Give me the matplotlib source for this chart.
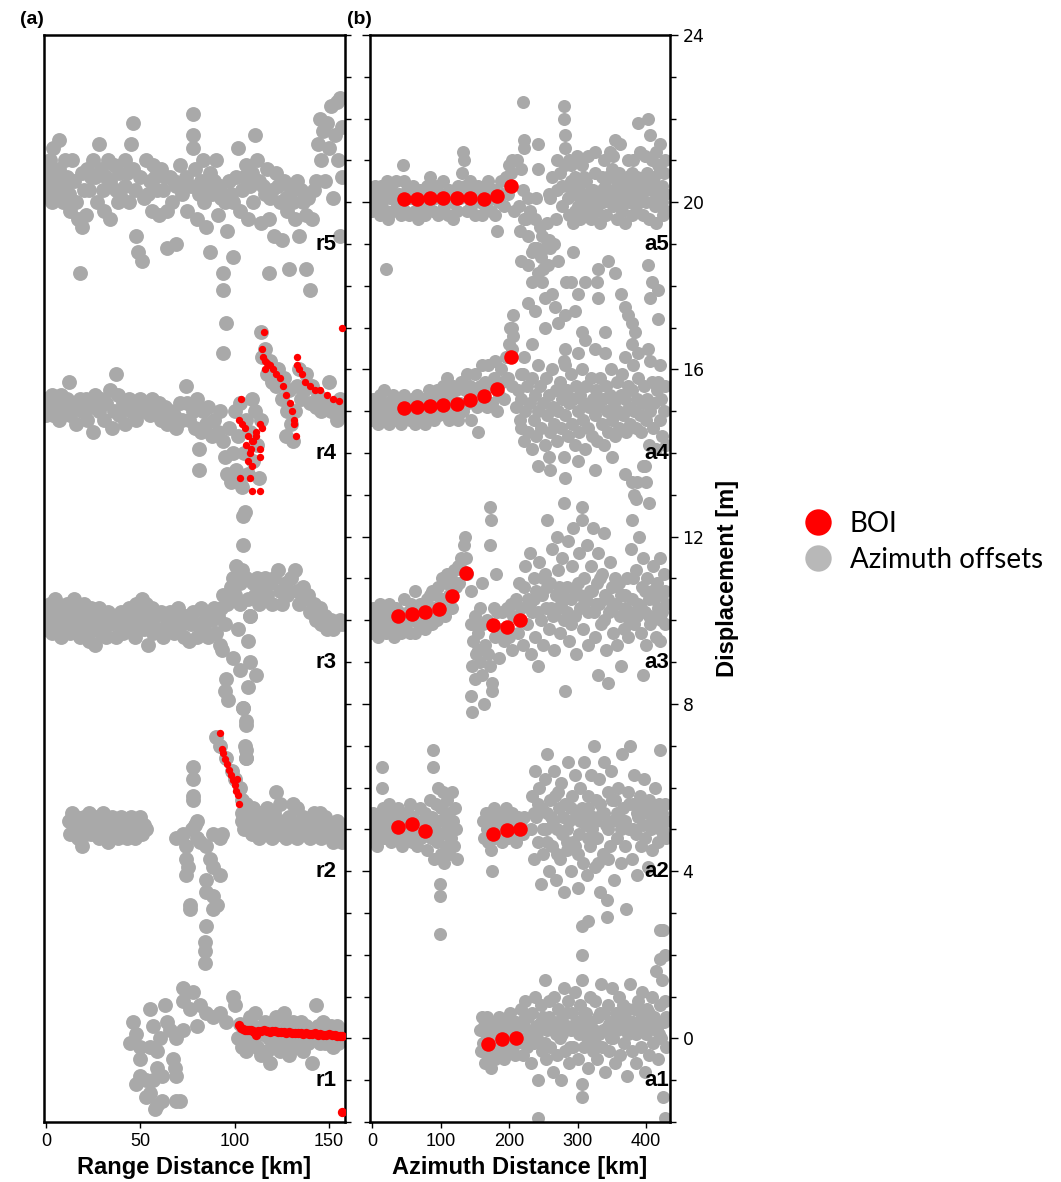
import matplotlib
matplotlib.use("Agg")
import matplotlib.pyplot as plt
from matplotlib.lines import Line2D
from matplotlib.ticker import MultipleLocator
import numpy as np

# ---- data: (distance km, displacement m incl. stacking offset) ----

# (a) range profiles r1..r5, grey = offsets, red = BOI
r5_grey = [
    (0, 20.6), (0, 20.2), (2, 21.0), (2, 20.4), (3, 20.0), (4, 21.3), (5, 20.7), (5, 20.2), (7, 21.5), (7, 20.8),
    (8, 20.3), (9, 20.0), (10, 21.0), (11, 20.6), (12, 20.2), (13, 19.8), (14, 21.0), (15, 20.5), (16, 20.0), (17, 19.6),
    (18, 18.3), (19, 19.4), (20, 20.3), (21, 19.7), (22, 20.8), (23, 20.3), (25, 21.0), (26, 20.6), (27, 20.0), (28, 21.4),
    (29, 20.8), (30, 20.3), (31, 19.8), (33, 21.0), (34, 20.5), (34, 19.6), (36, 20.9), (37, 20.3), (39, 20.7), (40, 20.1),
    (42, 21.0), (42, 20.4), (44, 20.0), (45, 21.4), (46, 21.9), (46, 20.8), (47, 20.3), (48, 19.2), (49, 18.8), (50, 20.6),
    (51, 18.6), (52, 20.1), (53, 21.0), (55, 20.5), (56, 19.8), (57, 20.9), (59, 20.3), (60, 19.7), (61, 20.8), (62, 20.3),
    (64, 18.9), (64, 19.8), (66, 20.6), (67, 20.0), (69, 19.0), (69, 20.4), (71, 20.9), (72, 20.2), (74, 20.6), (75, 19.8),
    (77, 20.4), (78, 22.1), (78, 21.6), (78, 21.3), (79, 20.8), (80, 19.6), (82, 20.5), (83, 21.0), (84, 20.0), (85, 19.4),
    (87, 18.8), (87, 20.7), (88, 20.2), (90, 21.0), (91, 19.7), (92, 20.4), (94, 18.3), (94, 17.9), (95.5, 17.1), (94, 16.4),
    (95, 20.0), (96, 19.3), (97, 20.5), (99, 18.7), (99, 20.0), (101, 20.6), (102, 21.3), (103, 19.8), (104, 20.3), (106, 20.9),
    (107, 19.6), (108, 20.4), (110, 20.0), (111, 21.6), (112, 21.0), (113, 20.5), (114, 19.5), (116, 20.2), (117, 20.8), (118, 18.3),
    (118, 19.6), (120, 20.3), (121, 19.2), (122, 20.7), (124, 20.0), (125, 19.1), (126, 20.5), (128, 19.8), (129, 18.4), (130, 20.3),
    (132, 19.6), (133, 20.5), (134, 19.2), (136, 20.0), (138, 18.4), (138, 19.7), (140, 17.9), (141, 19.6), (142, 20.3), (144, 21.4),
    (145, 22.0), (146, 21.0), (147, 21.7), (148, 20.5), (149, 21.9), (150, 21.3), (151, 22.3), (152, 20.1), (153, 21.6), (154, 22.4),
    (155, 21.0), (156, 22.5), (156, 19.2), (157, 21.8), (157, 20.6),
    (1, 20.9), (6, 20.5), (10, 20.3), (19, 20.7), (24, 20.6), (32, 20.6), (38, 20.0), (43, 20.7), (54, 20.2), (58, 20.6),
    (63, 20.6), (68, 20.5), (73, 20.4), (81, 20.2), (86, 20.4), (89, 20.5), (93, 20.1), (98, 20.2), (105, 20.6), (109, 20.7),
    (115, 20.4), (119, 20.1), (123, 20.4), (127, 20.1), (131, 20.0), (135, 20.3), (139, 20.1), (143, 20.5),
]
r4_grey = [
    (0, 15.3), (0, 14.9), (2, 15.1), (3, 15.4), (4, 14.9), (6, 15.2), (7, 14.8), (8, 15.4), (10, 15.0), (11, 15.3),
    (12, 15.7), (13, 14.9), (15, 15.2), (16, 14.7), (18, 15.3), (19, 15.0), (21, 15.3), (22, 14.8), (24, 15.1), (25, 14.5),
    (26, 15.4), (28, 15.0), (29, 15.3), (31, 14.8), (32, 15.2), (34, 15.5), (35, 14.6), (36, 15.0), (37, 15.9), (38, 15.4),
    (39, 14.9), (41, 15.2), (42, 14.7), (44, 15.3), (45, 15.0), (47, 15.2), (48, 14.8), (50, 15.3), (51, 15.0), (53, 15.2),
    (55, 14.9), (56, 15.3), (58, 15.0), (60, 15.2), (61, 14.8), (63, 15.1), (64, 14.7), (66, 15.0), (68, 14.9), (69, 14.6),
    (71, 15.2), (72, 14.8), (74, 15.6), (75, 15.2), (76, 14.8), (78, 15.0), (79, 14.6), (80, 15.3), (81, 14.1), (81, 13.6),
    (82, 14.5), (83, 15.0), (85, 14.7), (86, 15.1), (88, 14.4), (89, 14.8), (91, 14.5), (92, 15.0),
    (94, 14.3), (95, 13.9), (96, 13.5), (97, 14.6), (98, 13.3), (99, 14.0), (100, 15.0), (101, 13.6), (102, 14.4), (103, 15.2),
    (104, 13.2), (105, 14.0), (106, 14.8), (107, 13.5), (108, 14.5), (109, 15.3), (110, 13.8), (111, 15.0), (112, 14.2), (113, 13.4),
    (114, 14.8), (105.5, 12.6), (104.4, 12.5), (104.4, 11.8), (104, 11.2),
    (114, 16.9), (114.5, 16.3), (116, 16.5), (117, 15.9), (119, 16.2), (120, 15.7), (122, 15.6), (123, 16.0), (125, 15.3), (126, 15.8),
    (128, 15.0), (129, 15.5), (130, 14.7), (131, 14.3), (132, 15.0), (127.5, 14.4),
    (133, 15.6), (134, 16.0), (135, 15.3), (137, 15.5), (138, 15.9), (140, 15.2), (141, 15.6), (143, 15.1), (144, 15.4), (146, 15.0),
    (147, 15.3), (149, 15.1), (150, 15.7), (151, 15.0), (153, 15.2), (154, 14.8), (156, 15.3), (157, 15.0),
]
r3_grey = [
    (0, 10.2), (0, 9.8), (1, 10.0), (2, 10.4), (3, 9.7), (4, 10.1), (5, 10.5), (6, 9.9), (7, 10.3), (8, 9.6),
    (9, 10.1), (10, 9.8), (11, 10.4), (12, 10.0), (13, 9.7), (14, 10.2), (15, 10.5), (16, 9.9), (17, 10.3), (18, 9.6),
    (19, 10.0), (20, 10.4), (21, 9.8), (22, 10.1), (23, 9.5), (24, 10.3), (25, 9.8), (26, 9.4), (27, 10.0), (28, 10.3),
    (29, 9.7), (30, 10.1), (31, 9.8), (32, 9.6), (33, 10.2), (34, 9.9), (36, 10.1), (37, 9.6), (38, 9.9), (40, 10.2),
    (41, 9.7), (42, 10.0), (44, 10.3), (45, 9.8), (46, 10.1), (47, 9.6), (48, 10.4), (49, 9.9), (50, 10.2), (51, 10.5),
    (52, 9.8), (53, 10.4), (54, 9.4), (55, 10.0), (56, 10.3), (57, 9.7), (58, 10.1), (60, 9.8), (61, 10.2), (62, 9.6),
    (64, 10.0), (65, 9.8), (66, 10.2), (68, 9.7), (69, 10.0), (70, 10.3), (72, 9.9), (73, 9.6), (74, 10.1), (76, 9.5),
    (77, 9.9), (78, 10.2), (80, 9.6), (81, 9.9), (82, 10.3), (84, 9.8), (85, 10.1), (86, 9.6), (88, 10.0), (89, 10.3),
    (90, 9.7), (91, 10.1), (92, 9.4), (93, 10.3), (94, 10.6), (95, 9.9), (96, 10.4),
    (98, 10.8), (99, 11.0), (100, 10.6), (101, 11.3), (103, 10.9), (106, 11.0), (107, 10.5), (108, 10.1), (110, 10.9), (111, 10.6),
    (112, 11.0), (113, 10.4), (114, 10.8), (116, 11.0), (117, 10.6), (119, 10.9), (120, 10.4), (121, 11.0), (123, 11.2), (124, 10.7),
    (125, 10.4), (127, 10.9), (128, 10.6), (130, 11.0), (132, 11.2), (133, 10.7), (134, 10.4), (136, 10.8), (137, 10.5), (139, 10.6),
    (140, 10.2), (142, 10.4), (143, 10.0), (145, 10.3), (146, 9.9), (148, 10.1), (149, 9.8), (151, 10.0), (152, 9.8), (154, 9.9),
    (156, 10.0), (157, 9.9),
    (93.4, 9.3), (99, 9.1), (102.6, 8.8), (95.7, 8.6), (94.8, 8.3), (96.6, 8.1), (108, 9.0), (111.6, 8.7), (107, 8.4), (107, 9.5),
    (108, 10.1), (104.6, 7.9), (106.3, 7.5), (102.6, 10.4), (101.7, 9.8), (105.5, 7.0), (106.3, 6.7),
]
r2_grey = [
    (12, 5.2), (13, 4.9), (14, 5.4), (15, 5.0), (16, 5.3), (17, 4.8), (18, 5.1), (19, 4.6), (20, 5.3), (21, 4.9),
    (22, 5.2), (23, 5.4), (24, 4.9), (25, 5.2), (26, 5.0), (27, 5.3), (28, 4.8), (29, 5.1), (30, 5.4), (31, 4.9),
    (32, 5.2), (33, 4.7), (34, 5.0), (35, 5.3), (36, 4.9), (37, 5.2), (38, 4.8), (39, 5.1), (40, 5.3), (41, 4.9),
    (42, 5.2), (43, 4.8), (44, 5.0), (45, 5.3), (46, 5.0), (47, 4.8), (48, 5.2), (49, 5.0), (50, 5.3), (51, 4.9),
    (52, 5.1), (53, 5.0),
    (69.2, 4.8), (72.8, 4.9), (79, 5.1), (79.9, 5.2), (78, 6.5), (78, 6.2), (78, 5.8), (78, 5.7), (74.5, 4.6), (74.5, 4.3),
    (75.4, 4.1), (74.5, 3.9), (76.3, 3.2), (76.3, 3.1), (85.1, 4.6), (86.9, 4.3), (88.7, 4.1), (92.2, 4.8), (92.2, 3.9), (85.1, 3.8),
    (85.1, 3.5), (88.7, 3.4), (90.5, 3.2), (88.7, 3.1), (85.1, 2.7), (84.3, 2.3), (84.3, 2.1), (84.3, 1.8), (79.9, 4.8), (81.6, 4.7),
    (77.2, 5.0), (88.7, 4.9), (93.1, 4.9),
    (90.4, 7.2), (92.5, 7.0), (104.6, 7.9), (106.3, 7.6), (106.3, 6.9), (106.3, 6.7), (95.7, 6.7), (98.4, 6.4), (100.2, 6.2), (102.8, 6.0),
    (103.7, 5.7), (103.7, 5.2), (111.6, 5.0), (116.9, 5.1), (124, 4.9), (132.9, 5.5), (132.9, 4.8), (145.2, 5.4), (152.3, 4.7), (154, 5.0),
    (122.2, 5.9), (104, 5.4), (105, 5.0), (106, 5.6), (108, 5.2), (109, 4.9), (110, 5.5), (112, 5.1), (113, 4.8), (114, 5.4),
    (116, 5.0), (117, 5.5), (119, 5.2), (120, 4.8), (121, 5.4), (123, 5.0), (124, 5.6), (126, 5.2), (127, 4.8), (129, 5.3),
    (130, 5.0), (131, 5.6), (133, 5.1), (134, 4.9), (136, 5.3), (137, 5.0), (139, 5.2), (140, 4.8), (142, 5.4), (143, 5.0),
    (145, 5.2), (146, 4.8), (148, 5.3), (149, 5.0), (151, 5.1), (152, 4.8), (154, 5.2), (155, 4.9), (157, 5.1), (157, 4.7),
]
r1_grey = [
    (46.3, 0.4), (48, 0.1), (44.5, -0.1), (49.8, -0.2), (55.1, 0.7), (56.9, 0.3), (60.4, 0.0), (58.7, -0.3), (49.8, -0.5), (55.1, -0.2),
    (63.1, 0.8), (64, 0.4), (65.7, 0.2), (69.2, 0.0), (72.8, 0.2), (67.5, -0.5), (68.4, -0.7), (69.2, -0.9), (49.8, -0.9), (48, -1.1),
    (53.3, -1.0), (56.9, -1.0), (61.3, -0.9), (58.7, -0.7), (55.1, -1.3), (53.3, -1.4), (58.7, -1.6), (57.8, -1.7), (61.3, -1.5), (71, -1.5),
    (69.2, -1.5),
    (72.8, 1.2), (72.8, 0.9), (78, 1.1), (76.3, 0.7), (81.6, 0.8), (85.1, 0.6), (88.7, 0.5), (92.2, 0.6), (95.7, 0.4), (79.9, 0.3),
    (99.3, 1.0), (100.2, 0.8),
    (102, 0.0), (103, 0.35), (104, -0.2), (105, 0.2), (106, -0.3), (107, 0.1), (108, 0.5), (109, -0.1), (110, 0.3), (111, 0.6),
    (112, -0.2), (113, 0.2), (114, -0.4), (115, 0.1), (116, 0.4), (117, -0.3), (118, 0.0), (119, -0.6), (120, 0.3), (121, -0.1),
    (122, 0.5), (123, 0.1), (124, -0.3), (125, 0.2), (126, 0.6), (127, -0.1), (128, 0.3), (129, -0.4), (130, 0.1), (131, 0.4),
    (132, -0.2), (133, 0.2), (134, 0.0), (135, 0.4), (136, -0.3), (137, 0.1), (138, 0.3), (139, -0.1), (140, 0.2), (141, -0.6),
    (142, 0.1), (143, 0.8), (144, 0.3), (145, -0.1), (146, 0.2), (147, 0.4), (148, -0.1), (149, 0.2), (150, 0.0), (151, 0.3),
    (152, -0.2), (153, 0.1), (154, 0.3), (155, -0.1), (156, 0.1), (157, 0.2),
]

r4_red = [
    (103.3, 15.3), (102.5, 14.8), (103.7, 14.7), (105.5, 14.6), (107.2, 14.4), (109, 14.3), (111.6, 14.4), (113.4, 14.7), (114.3, 14.6),
    (106.3, 14.2), (108.5, 14.1), (113.4, 14.1), (108.1, 14.0), (107.2, 13.8), (113.4, 13.9), (109, 13.7), (102.8, 13.4), (108.1, 13.4),
    (109, 13.1), (113.4, 13.1), (111.6, 14.5), (110, 14.3),
    (115.4, 16.9), (114.3, 16.5), (114.8, 16.3), (116, 16.2), (117.2, 16.15), (118.6, 16.1), (120.3, 16.0), (122.1, 15.9), (123.9, 15.8),
    (125.6, 15.6), (127.4, 15.4), (129.1, 15.2), (130.4, 15.0), (131.3, 14.8), (131.6, 14.7), (132.5, 14.4), (116, 16.0),
    (132.8, 16.3), (133.2, 16.1), (134.3, 16.0), (135.5, 15.9), (137.3, 15.7), (139.9, 15.6), (142.6, 15.5), (145.3, 15.5), (148.8, 15.4),
    (152.4, 15.3), (155.4, 15.25), (156.7, 17.0),
]
r2_red = [
    (92.2, 7.3), (93.1, 6.93), (94, 6.82), (95, 6.69), (96, 6.56), (97, 6.43), (98, 6.31), (99, 6.18), (100, 6.05), (101, 5.92),
    (101.4, 6.21), (101.9, 5.81), (102.5, 5.6),
]
r1_red = [
    (102.5, 0.33), (103.5, 0.24), (104.5, 0.22), (105.5, 0.21), (106.5, 0.2), (107.5, 0.19), (108.5, 0.2), (109.5, 0.18), (110.5, 0.15),
    (111.5, 0.08), (112.5, 0.17), (114, 0.18), (115.5, 0.19), (117, 0.17), (118.5, 0.16), (120, 0.18), (121.5, 0.17), (123, 0.16),
    (124.5, 0.15), (126, 0.16), (127.5, 0.14), (129, 0.15), (130.5, 0.13), (132, 0.14), (133.5, 0.12), (135, 0.13), (136.5, 0.11),
    (138, 0.12), (139.5, 0.1), (141, 0.11), (142.5, 0.12), (144, 0.09), (145.5, 0.1), (147, 0.08), (148.5, 0.09), (150, 0.1),
    (151.5, 0.07), (153, 0.08), (154.5, 0.06), (156, 0.05), (157, 0.05), (157, -1.76),
]

# (b) azimuth profiles a1..a5
a5_grey = [
    (0, 20.3), (0, 19.8), (3, 20.1), (5, 20.4), (6, 19.9), (9, 20.2), (11, 19.7), (13, 20.4), (15, 20.0), (18, 20.3),
    (20, 19.8), (22, 20.5), (24, 19.6), (26, 20.1), (28, 20.4), (30, 19.8), (33, 20.2), (35, 20.5), (37, 19.9), (40, 20.2),
    (42, 19.7), (45, 20.9), (46, 20.5), (48, 19.8), (51, 20.3), (54, 19.7), (57, 20.1), (60, 20.4), (62, 19.8), (65, 20.2),
    (67, 19.6), (70, 20.3), (72, 19.9), (75, 20.1), (77, 19.7), (80, 20.4), (82, 19.9), (85, 20.6), (87, 20.2), (89, 19.8),
    (92, 20.1), (95, 20.4), (97, 19.7), (100, 20.2), (103, 20.5), (105, 19.9), (108, 20.2), (111, 19.7), (113, 20.3), (116, 20.0),
    (118, 19.6), (121, 20.3), (124, 19.8), (126, 20.4), (129, 20.1), (131, 20.7), (133, 21.2), (134, 21.0), (136, 20.4), (138, 19.8),
    (140, 20.2), (143, 20.5), (145, 19.9), (148, 20.3), (150, 19.7), (153, 20.1), (155, 20.4), (158, 20.0), (160, 19.7), (163, 20.3),
    (165, 19.9), (168, 20.2), (170, 20.5), (173, 19.8), (175, 20.1), (178, 20.3), (180, 19.7), (183, 19.3), (185, 20.0), (188, 20.5),
    (190, 20.2), (193, 19.9), (196, 20.6), (198, 20.2), (200, 20.9), (203, 20.7), (205, 21.0), (207, 19.8), (21, 18.4),
    (212, 21.0), (218, 20.8), (221, 22.4), (222, 21.5), (222, 21.3), (215, 19.9), (220, 20.3), (225, 19.6), (228, 20.1), (222, 19.6),
    (227, 19.2), (233, 18.8), (218, 18.6), (228, 18.5), (233, 18.1), (238, 19.6), (240, 20.1), (242, 21.4), (243, 20.8), (245, 19.4),
    (248, 19.2), (248, 18.1), (252, 18.9), (253, 17.7), (243, 18.3), (255, 19.5), (257, 18.5), (258, 20.2), (260, 20.1), (262, 20.6),
    (262, 17.8), (265, 19.0), (268, 19.6), (270, 20.3), (272, 18.6), (275, 20.7), (278, 19.9), (280, 22.3), (280, 22.0), (281, 21.6),
    (282, 21.3), (282, 20.9), (283, 18.1), (285, 20.4), (287, 19.7), (290, 20.9), (291, 18.1), (293, 20.2), (294, 19.5), (294, 18.8),
    (297, 20.6), (300, 19.9), (302, 20.4), (304, 19.6), (306, 20.9), (308, 20.2), (311, 18.1), (311, 19.8), (313, 20.5), (316, 21.1),
    (318, 20.0), (320, 19.6), (322, 20.3), (325, 21.2), (326, 20.7), (328, 19.8), (330, 18.4), (330, 20.2), (333, 19.5), (335, 20.6),
    (337, 20.0), (340, 20.4), (342, 19.7), (345, 18.6), (345, 20.1), (347, 21.2), (348, 20.6), (350, 20.8), (352, 19.9), (355, 21.5),
    (355, 20.3), (355, 18.3), (357, 19.6), (360, 20.1), (362, 21.4), (363, 20.5), (365, 19.8), (367, 20.3), (370, 19.5), (372, 20.6),
    (375, 20.0), (377, 20.4), (379, 20.7), (380, 19.7), (383, 20.2), (385, 19.9), (387, 20.6), (389, 21.9), (391, 21.2), (392, 20.3),
    (395, 19.7), (397, 20.4), (400, 20.0), (402, 20.7), (403, 22.0), (405, 19.6), (406, 21.6), (407, 20.3), (403, 18.5), (410, 20.0),
    (412, 20.6), (414, 19.5), (416, 20.2), (418, 20.9), (420, 21.4), (420, 20.8), (421, 19.9), (423, 20.4), (425, 19.7), (427, 20.2),
    (428, 21.0), (429, 19.8),
    (328, 18.1), (364, 17.8), (369, 17.5), (374, 17.3), (379, 17.1), (384, 16.9), (379, 16.6), (408, 18.1), (418, 17.9), (406, 17.7),
    (418, 17.2), (403, 16.5), (406, 16.2), (301, 17.8), (297, 17.4), (330, 17.7), (282, 17.3), (267, 17.5), (238, 17.4), (228, 17.6),
    (252, 17.0), (272, 17.1), (311, 16.7), (306, 16.9), (340, 16.9), (325, 16.5), (282, 16.5), (222, 16.3), (233, 16.6), (218, 15.9),
    (243, 16.1), (282, 16.1), (301, 16.4), (340, 16.4), (369, 16.3), (389, 16.4), (206, 17.3), (205, 17.0), (206, 16.8), (204, 16.5),
    (286, 20.1), (296, 19.8), (309, 20.6), (319, 20.3), (332, 20.0), (343, 20.6), (358, 20.4), (368, 20.0), (382, 20.5), (394, 20.1),
    (408, 20.4), (419, 20.1), (426, 20.7), (288, 21.0), (338, 21.0), (373, 21.0), (398, 21.1), (415, 21.2), (236, 18.9), (250, 18.4),
    (216, 19.3), (260, 18.9), (231, 19.8), (246, 18.7),
    (277, 20.4), (291, 20.5), (303, 20.1), (315, 19.9), (324, 19.9), (336, 20.3), (349, 20.2), (361, 20.7), (371, 20.2), (386, 20.3),
    (399, 20.5), (413, 19.9), (424, 20.0), (299, 21.1), (352, 21.1), (381, 21.0), (409, 21.0), (270, 21.0), (258, 19.1), (241, 18.9),
]
a4_grey = [
    (0, 15.1), (0, 14.8), (2, 15.3), (4, 14.9), (6, 15.2), (8, 14.7), (10, 15.1), (12, 15.4), (14, 14.8), (16, 15.2),
    (18, 15.5), (20, 14.9), (22, 15.2), (25, 14.7), (27, 15.1), (30, 15.4), (32, 14.8), (35, 15.2), (37, 14.9), (40, 15.3),
    (42, 14.7), (45, 15.0), (47, 15.4), (50, 14.9), (53, 15.2), (55, 14.8), (58, 15.3), (60, 15.0), (63, 14.7), (65, 15.4),
    (68, 15.1), (70, 14.8), (73, 15.3), (75, 15.0), (78, 14.7), (80, 15.2), (83, 15.5), (85, 14.9), (88, 15.3), (90, 14.8),
    (93, 15.2), (95, 15.5), (98, 14.9), (100, 15.3), (103, 15.6), (105, 15.0), (108, 15.4), (110, 15.8), (112, 14.8), (115, 15.3),
    (118, 15.6), (120, 15.0), (123, 15.5), (125, 14.8), (128, 15.2), (130, 15.7), (133, 15.0), (135, 15.5), (138, 15.9), (140, 15.2),
    (143, 15.6), (145, 14.8), (148, 15.4), (150, 15.9), (153, 15.1), (155, 14.5), (157, 15.6), (160, 16.1), (162, 15.3), (165, 15.7),
    (168, 15.1), (170, 16.1), (172, 15.6), (175, 15.2), (178, 15.8), (180, 16.2), (182, 15.0), (185, 15.4), (188, 16.0), (190, 15.7),
    (193, 15.3), (195, 16.3), (198, 15.8), (200, 16.6), (202, 17.0), (204, 15.6),
    (210, 15.1), (213, 15.5), (216, 14.8), (218, 15.3), (218, 14.6), (221, 15.9), (222, 14.3), (224, 15.0), (226, 15.6), (228, 14.5),
    (230, 15.2), (233, 14.1), (233, 15.8), (236, 14.8), (238, 15.4), (240, 14.4), (242, 15.0), (243, 13.7), (245, 15.6), (247, 14.6),
    (250, 15.2), (252, 14.2), (254, 15.8), (256, 14.9), (258, 15.4), (260, 14.5), (262, 16.0), (264, 15.1), (266, 14.7), (268, 15.5),
    (270, 14.3), (272, 15.0), (274, 15.7), (276, 14.6), (278, 15.3), (280, 13.9), (280, 16.2), (282, 13.4), (282, 14.9), (284, 15.5),
    (286, 14.4), (288, 15.2), (290, 15.9), (292, 14.7), (294, 15.3), (296, 14.2), (298, 15.6), (300, 15.0), (302, 14.5), (304, 15.4),
    (306, 16.0), (308, 14.8), (310, 15.2), (311, 14.1), (313, 15.6), (315, 14.6), (317, 15.1), (319, 15.8), (321, 14.4), (323, 15.3),
    (325, 13.6), (325, 14.9), (327, 15.5), (329, 14.3), (331, 15.1), (333, 15.8), (335, 14.7), (337, 15.3), (339, 14.2), (341, 15.6),
    (343, 15.0), (345, 14.5), (347, 15.4), (349, 16.0), (351, 14.8), (353, 15.2), (355, 14.4), (357, 15.7), (359, 15.0), (361, 14.6),
    (363, 15.4), (365, 15.9), (367, 14.9), (369, 15.3), (371, 14.5), (373, 15.6), (375, 15.1), (377, 14.7), (379, 15.5), (381, 16.1),
    (383, 15.0), (385, 14.6), (387, 15.3), (389, 15.8), (391, 14.9), (393, 14.5), (395, 15.2), (397, 15.6), (399, 13.7), (400, 14.8),
    (402, 15.3), (404, 14.2), (406, 15.0), (408, 15.7), (410, 14.6), (412, 15.2), (414, 14.1), (416, 15.5), (418, 15.7), (420, 16.1),
    (420, 14.8), (422, 15.3), (424, 14.4), (426, 15.0), (428, 15.6), (429, 14.2),
    (258, 13.9), (300, 13.8), (350, 13.9), (370, 13.5), (260, 13.6),
]
a3_grey = [
    (0, 10.1), (0, 9.7), (2, 10.3), (4, 9.9), (6, 10.2), (8, 9.6), (10, 10.0), (12, 10.4), (14, 9.8), (16, 10.1),
    (18, 10.3), (20, 9.7), (22, 10.0), (25, 10.4), (27, 9.8), (30, 10.1), (32, 9.6), (35, 10.3), (37, 9.9), (40, 10.2),
    (42, 9.7), (45, 10.0), (47, 10.5), (50, 9.8), (52, 10.2), (55, 9.7), (57, 10.4), (60, 10.0), (62, 10.7), (63, 9.7),
    (65, 10.2), (68, 9.9), (70, 10.4), (72, 10.0), (75, 10.3), (77, 9.8), (80, 10.5), (82, 10.1), (85, 10.6), (87, 9.9),
    (88, 10.7), (90, 10.3), (93, 10.6), (95, 10.0), (97, 10.8), (100, 10.4), (102, 11.0), (104, 10.5), (106, 10.1), (108, 10.9),
    (110, 11.1), (112, 10.6), (115, 11.0), (117, 10.3), (120, 11.2), (122, 10.8), (125, 11.3), (127, 10.9), (130, 11.5), (132, 11.2),
    (134, 11.8), (135, 12.0), (137, 11.5), (139, 11.1),
    (172, 12.7), (174, 12.4), (172, 11.8), (181, 11.1), (145, 10.7), (160, 10.9), (145, 9.9), (150, 10.1), (148, 9.5), (152, 9.2),
    (146, 8.9), (150, 8.6), (145, 8.2), (146, 7.8), (163, 8.0), (175, 8.5), (175, 8.3), (155, 9.7), (158, 9.0), (160, 8.7),
    (165, 9.4), (168, 10.0), (170, 9.2), (172, 8.9), (178, 10.3), (180, 9.6), (182, 10.2), (185, 9.1), (188, 9.8), (190, 10.2),
    (193, 9.5), (197, 10.3), (200, 9.6), (203, 10.4), (206, 10.1), (210, 10.5), (213, 9.7), (218, 10.3), (220, 9.4), (205, 9.3),
    (215, 10.9), (155, 9.3), (162, 9.9), (150, 9.9), (158, 10.3),
    (222, 10.8), (224, 11.3), (226, 9.9), (228, 10.5), (230, 11.6), (232, 9.2), (234, 10.2), (236, 11.0), (238, 9.6), (240, 10.7),
    (242, 8.9), (244, 11.4), (246, 10.0), (248, 10.6), (250, 9.4), (252, 11.1), (254, 10.3), (256, 12.4), (258, 9.8), (260, 10.9),
    (262, 11.7), (264, 10.1), (266, 9.3), (268, 10.6), (270, 12.0), (272, 11.2), (274, 9.7), (276, 10.4), (278, 11.5), (280, 12.8),
    (280, 10.0), (282, 8.3), (284, 10.8), (286, 11.9), (288, 9.5), (290, 10.5), (292, 11.3), (294, 12.2), (296, 10.1), (298, 9.2),
    (300, 10.9), (302, 11.6), (304, 10.3), (306, 12.7), (306, 12.4), (308, 9.8), (310, 11.0), (312, 10.5), (314, 11.8), (316, 9.4),
    (318, 10.7), (320, 11.3), (322, 12.2), (324, 10.2), (326, 9.6), (328, 10.9), (330, 8.7), (330, 11.6), (332, 10.4), (334, 9.9),
    (336, 11.1), (338, 12.1), (340, 10.6), (342, 9.3), (344, 8.5), (346, 10.2), (348, 11.4), (350, 10.8), (352, 9.7), (354, 11.0),
    (356, 10.4), (358, 9.4), (360, 10.9), (362, 10.1), (364, 8.9), (366, 10.6), (368, 9.8), (370, 10.3), (372, 11.0), (374, 9.6),
    (376, 10.2), (378, 11.7), (380, 12.4), (380, 10.5), (382, 13.0), (383, 9.9), (385, 11.2), (387, 13.3), (388, 10.4), (390, 12.0),
    (392, 9.7), (394, 10.8), (395, 8.7), (396, 11.5), (398, 10.2), (400, 9.4), (402, 11.0), (404, 10.5), (406, 9.9), (408, 10.7),
    (410, 11.3), (412, 10.1), (414, 9.6), (416, 10.9), (418, 10.3), (420, 11.5), (420, 9.5), (422, 10.0), (424, 10.6), (426, 11.1),
    (428, 9.9), (429, 10.4),
    (380, 13.3), (385, 12.9), (395, 13.7), (400, 13.3), (405, 12.8),
    (231, 10.4), (243, 10.2), (255, 10.8), (267, 10.2), (279, 10.6), (291, 9.9), (303, 10.6), (315, 10.2), (327, 10.4), (339, 10.0),
    (351, 10.3), (363, 10.6), (375, 10.0), (387, 10.1), (399, 10.7), (411, 10.5), (423, 10.2),
    (237, 10.5), (249, 11.0), (261, 10.3), (273, 10.8), (285, 10.2), (297, 10.7), (309, 10.4), (321, 10.7), (333, 11.0), (345, 10.5),
    (357, 10.9), (369, 10.6), (381, 11.0), (393, 10.3), (405, 10.1), (417, 10.6), (427, 10.7),
]
a2_grey = [
    (0, 5.2), (0, 4.8), (2, 5.4), (4, 4.9), (5, 5.1), (7, 4.6), (9, 5.3), (11, 4.9), (13, 5.2), (15, 6.5),
    (15, 6.0), (16, 5.5), (17, 4.8), (19, 5.1), (21, 5.4), (23, 4.9), (25, 5.6), (27, 5.2), (28, 4.7), (30, 5.0),
    (32, 5.4), (34, 4.8), (36, 5.1), (38, 5.5), (40, 4.9), (42, 5.2), (44, 4.6), (46, 5.3), (48, 5.0), (50, 4.8),
    (52, 5.4), (54, 5.1), (56, 5.6), (58, 4.7), (60, 5.3), (62, 4.9), (64, 5.2), (66, 4.6), (68, 5.0), (70, 5.5),
    (72, 4.8), (74, 5.2), (76, 4.9), (78, 5.4), (80, 4.5), (82, 5.1), (84, 5.7), (86, 4.8), (88, 5.3), (89, 6.9),
    (89, 6.5), (90, 4.3), (92, 5.0), (93, 5.6), (95, 4.7), (96, 6.0), (98, 5.2), (99, 3.7), (99, 3.4), (99, 2.5),
    (100, 4.4), (101, 5.5), (102, 4.9), (104, 5.9), (105, 4.2), (106, 5.3), (108, 4.6), (109, 5.7), (110, 5.0), (112, 4.4),
    (113, 5.4), (115, 4.8), (116, 5.9), (118, 5.2), (120, 4.6), (121, 5.5), (123, 5.0), (124, 4.3),
    (162, 5.2), (164, 4.8), (166, 5.4), (168, 5.0), (170, 4.7), (172, 5.3), (174, 4.5), (175, 4.0), (176, 5.1), (178, 5.5),
    (180, 4.8), (182, 5.2), (185, 4.9), (188, 5.4), (190, 4.7), (193, 5.1), (195, 5.5), (198, 4.8), (200, 5.2), (203, 4.9),
    (205, 5.4), (208, 5.1), (210, 4.7), (213, 5.3), (215, 5.0), (218, 5.2), (220, 4.9), (222, 5.3),
    (232, 5.0), (234, 5.8), (236, 4.3), (238, 6.4), (240, 5.3), (242, 4.7), (244, 6.0), (246, 3.7), (248, 5.5), (250, 4.4),
    (252, 6.2), (254, 5.0), (256, 6.8), (258, 4.0), (260, 5.7), (262, 4.6), (264, 5.2), (266, 6.4), (268, 3.8), (270, 5.0),
    (272, 5.9), (274, 4.3), (276, 6.1), (278, 4.9), (280, 3.5), (282, 5.6), (284, 4.5), (286, 6.6), (288, 5.2), (290, 4.0),
    (292, 5.8), (294, 4.7), (296, 6.3), (298, 5.3), (300, 3.6), (302, 4.9), (304, 6.0), (306, 5.5), (308, 4.2), (310, 6.6),
    (312, 5.1), (314, 3.9), (316, 5.8), (318, 4.6), (320, 6.3), (322, 5.3), (324, 7.0), (325, 4.1), (327, 5.7), (329, 4.8),
    (331, 6.2), (333, 3.5), (335, 5.4), (337, 4.4), (339, 6.6), (341, 5.1), (343, 2.9), (343, 3.3), (345, 5.9), (347, 4.6),
    (349, 6.4), (351, 5.2), (353, 3.8), (355, 5.7), (357, 4.8), (359, 6.0), (361, 5.3), (363, 4.2), (365, 6.8), (367, 5.5),
    (369, 4.6), (371, 3.1), (373, 5.9), (375, 5.0), (377, 7.0), (379, 4.3), (381, 5.6), (383, 6.3), (385, 4.9), (387, 3.9),
    (389, 5.3), (391, 5.8), (393, 4.6), (395, 5.1), (397, 6.2), (399, 4.8), (401, 5.4), (403, 4.1), (405, 5.7), (407, 5.0),
    (409, 4.5), (411, 5.5), (413, 6.0), (415, 5.2), (417, 4.7), (419, 5.6), (421, 6.9), (421, 5.0), (423, 5.4), (425, 2.6),
    (425, 4.9), (427, 5.6), (428, 2.0), (429, 5.2), (306, 2.7), (316, 2.8), (306, 2.0),
    (237, 5.4), (249, 5.0), (261, 5.3), (273, 5.5), (285, 5.0), (297, 4.6), (309, 5.3), (321, 5.0), (333, 5.6), (345, 5.0),
    (357, 5.4), (369, 5.2), (381, 5.0), (393, 5.5), (405, 5.1), (417, 5.3), (429, 4.8), (270, 4.4), (300, 4.4), (330, 4.2),
    (243, 5.6), (255, 5.4), (267, 5.8), (279, 5.3), (291, 5.5), (303, 5.2), (315, 5.5), (327, 5.2), (339, 5.4), (351, 5.7),
    (363, 5.0), (375, 5.6), (387, 5.4), (399, 5.6), (411, 5.2), (423, 5.0), (255, 4.7), (285, 4.7), (315, 4.8), (345, 4.3),
]
a1_grey = [
    (158, 0.2), (159, -0.3), (160, 0.5), (162, -0.1), (164, 0.3), (165, -0.6), (167, 0.1), (168, 0.5), (170, -0.4), (172, 0.2),
    (173, -0.7), (175, 0.4), (177, -0.2), (178, 0.1), (180, -0.5), (182, 0.3), (184, -0.1), (186, 0.5), (188, -0.3), (190, 0.2),
    (192, -0.5), (194, 0.4), (196, 0.0), (198, -0.3), (200, 0.3), (202, 0.6), (204, -0.2), (206, 0.2), (208, -0.4), (210, 0.4),
    (212, -0.1), (214, 0.3),
    (216, 0.0), (218, 0.7), (220, -0.4), (222, 0.3), (224, 0.9), (226, -0.2), (228, 0.5), (230, 0.1), (232, -0.6), (234, 0.6),
    (236, -0.1), (238, 1.0), (240, 0.3), (242, -1.0), (242, -1.9), (244, 0.2), (246, 0.8), (248, -0.3), (250, 0.5), (252, 1.4),
    (254, -0.5), (256, 0.2), (258, 0.9), (260, -0.2), (262, 0.4), (264, -0.8), (266, 1.0), (268, 0.1), (270, -0.4), (272, 0.7),
    (274, 0.0), (276, -1.0), (278, 0.5), (280, 1.2), (282, -0.3), (284, 0.3), (286, 0.9), (288, -0.6), (290, 0.2), (292, 0.6),
    (294, -0.2), (296, 1.1), (298, 0.4), (300, -0.5), (302, 0.1), (304, 0.8), (306, -1.1), (306, -1.4), (307, 1.4), (308, 0.3),
    (310, -0.2), (312, 0.6), (314, 0.0), (316, -0.7), (318, 1.0), (320, 0.4), (322, -0.3), (324, 0.2), (326, 0.9), (328, -0.5),
    (330, 0.5), (332, 0.1), (334, 1.3), (336, -0.2), (338, 0.6), (340, -0.8), (342, 0.2), (344, 0.8), (346, -0.3), (348, 0.4),
    (350, 1.2), (352, 0.0), (354, -0.6), (356, 0.6), (358, 0.2), (360, 1.0), (362, -0.4), (364, 0.3), (366, 0.8), (368, -0.1),
    (370, 0.5), (372, -0.9), (374, 0.1), (376, 1.3), (378, 0.4), (380, -0.3), (382, 0.7), (384, 0.2), (386, -0.6), (388, 0.9),
    (390, 0.3), (392, -0.2), (394, 1.1), (396, 0.5), (398, -0.8), (400, 0.1), (402, 0.7), (404, -0.4), (406, 0.3), (408, 1.0),
    (410, -0.1), (412, 0.5), (414, 1.6), (416, 0.2), (418, -0.5), (420, 0.8), (420, 2.6), (421, 1.9), (422, 0.0), (424, 1.4),
    (425, -1.4), (426, 0.4), (427, -1.9), (428, 0.9), (429, -0.2),
    (223, 0.5), (235, 0.2), (247, 0.4), (259, 0.5), (271, 0.3), (283, 0.6), (295, 0.3), (309, 0.6), (321, 0.1), (333, 0.6),
    (345, 0.3), (357, 0.5), (369, 0.2), (381, 0.4), (393, 0.6), (405, 0.6), (417, 0.4), (429, 0.5),
    (229, -0.1), (241, 0.0), (253, -0.1), (265, 0.2), (277, 0.1), (289, -0.2), (301, 0.4), (313, 0.3), (325, -0.1), (337, 0.2),
    (349, 0.0), (361, 0.3), (373, 0.7), (385, 0.1), (397, 0.2), (409, 0.3), (419, 0.1),
]

a5_boi = [(46, 20.07), (65, 20.07), (85, 20.09), (104, 20.11), (124, 20.09), (143, 20.11), (163, 20.07), (183, 20.15), (203, 20.38)]
a4_boi = [(46, 15.07), (65, 15.11), (85, 15.12), (104, 15.15), (124, 15.17), (143, 15.28), (163, 15.36), (183, 15.54), (203, 16.29)]
a3_boi = [(38, 10.1), (58, 10.15), (77, 10.2), (98, 10.28), (117, 10.59), (137, 11.14), (176, 9.89), (197, 9.84), (216, 10.0)]
a2_boi = [(38, 5.06), (58, 5.13), (78, 4.96), (176, 4.89), (197, 4.98), (216, 5.0)]
a1_boi = [(170, -0.13), (189, -0.02), (210, 0.01)]

range_labels = ["r1", "r2", "r3", "r4", "r5"]
azimuth_labels = ["a1", "a2", "a3", "a4", "a5"]
label_y = [-1, 4, 9, 14, 19]

GREY = "#a9a9a9"
RED = "#ff0000"
BOLD = ["Liberation Sans", "DejaVu Sans"]

fig = plt.figure(figsize=(10.61, 11.82), dpi=100)
W, H = 1061, 1182
ax_a = fig.add_axes([44 / W, 1 - 1122 / H, 301 / W, 1087 / H])
ax_b = fig.add_axes([370 / W, 1 - 1122 / H, 300 / W, 1087 / H])


def xy(pts):
    arr = np.array(pts, dtype=float)
    return arr[:, 0], arr[:, 1]


for pts in [r1_grey, r2_grey, r3_grey, r4_grey, r5_grey]:
    x, y = xy(pts)
    ax_a.scatter(x, y, s=115, color=GREY, linewidths=0, zorder=2)
for pts in [r4_red, r2_red]:
    x, y = xy(pts)
    ax_a.scatter(x, y, s=28, color=RED, linewidths=0, zorder=3)
x, y = xy(r1_red)
ax_a.scatter(x, y, s=45, color=RED, linewidths=0, zorder=3)

for pts in [a1_grey, a2_grey, a3_grey, a4_grey, a5_grey]:
    x, y = xy(pts)
    ax_b.scatter(x, y, s=88, color=GREY, linewidths=0, zorder=2)
for pts in [a1_boi, a2_boi, a3_boi, a4_boi, a5_boi]:
    x, y = xy(pts)
    ax_b.scatter(x, y, s=110, color=RED, linewidths=0, zorder=3)

ax_a.set_xlim(-1, 158.5)
ax_b.set_xlim(-3, 435)
for ax in (ax_a, ax_b):
    ax.set_ylim(-2, 24)
    for sp in ax.spines.values():
        sp.set_linewidth(1.8)
    ax.tick_params(axis="x", direction="out", length=4, width=1, labelsize=13, pad=4)
    for lab in ax.get_xticklabels():
        lab.set_family(BOLD)

ax_a.xaxis.set_major_locator(MultipleLocator(50))
ax_b.xaxis.set_major_locator(MultipleLocator(100))

# panel a: ticks only on the right side, no labels
ax_a.yaxis.set_major_locator(MultipleLocator(1))
ax_a.tick_params(axis="y", left=False, right=True, labelleft=False, labelright=False,
                 direction="out", length=4, width=1)

# panel b: labelled ticks on the right, plain ticks on the left
ax_b.yaxis.set_major_locator(MultipleLocator(4))
ax_b.yaxis.set_minor_locator(MultipleLocator(1))
ax_b.tick_params(axis="y", which="major", left=True, right=True, labelleft=False, labelright=True,
                 direction="out", length=6, width=1, labelsize=12.5, pad=3)
ax_b.tick_params(axis="y", which="minor", left=True, right=True, direction="out", length=4, width=1)

ax_a.set_xlabel("Range Distance [km]", fontsize=17, fontweight="bold", family=BOLD, labelpad=4)
ax_b.set_xlabel("Azimuth Distance [km]", fontsize=17, fontweight="bold", family=BOLD, labelpad=4)
ax_b.yaxis.set_label_position("right")
ax_b.set_ylabel("Displacement [m]", fontsize=17, fontweight="bold", family=BOLD, labelpad=8)

for lab, yv in zip(range_labels, label_y):
    ax_a.text(0.973, yv, lab, transform=ax_a.get_yaxis_transform(), ha="right", va="center",
              fontsize=16, fontweight="bold", family=BOLD, zorder=5)
for lab, yv in zip(azimuth_labels, label_y):
    ax_b.text(0.998, yv, lab, transform=ax_b.get_yaxis_transform(), ha="right", va="center",
              fontsize=16, fontweight="bold", family=BOLD, zorder=5)

fig.text(44 / W, 1 - 20 / H, "(a)", ha="right", va="center", fontsize=14, fontweight="bold", family=BOLD)
fig.text(372 / W, 1 - 20 / H, "(b)", ha="right", va="center", fontsize=14, fontweight="bold", family=BOLD)

handles = [
    Line2D([], [], marker="o", ls="", color=RED, markersize=19, markeredgewidth=0),
    Line2D([], [], marker="o", ls="", color="#b8b8b8", markersize=19, markeredgewidth=0),
]
fig.legend(handles, ["BOI", "Azimuth offsets"], loc="center left",
           bbox_to_anchor=(804 / W, 1 - 542 / H), frameon=False, borderpad=0, borderaxespad=0,
           handlelength=1.0, handletextpad=0.65, labelspacing=0.35,
           prop={"family": ["Lato", "DejaVu Sans"], "size": 20})

fig.savefig("out.png", dpi=100)
